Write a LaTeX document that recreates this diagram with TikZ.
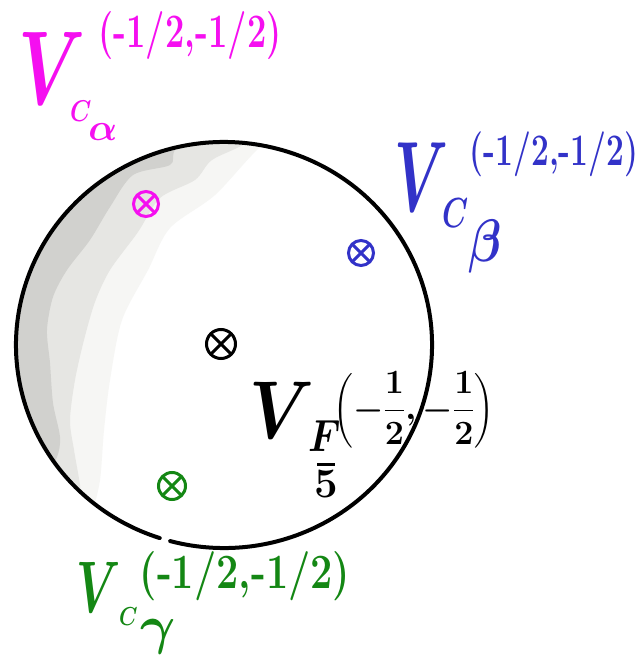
\RequirePackage{fix-cm}
\documentclass[tikz,border=0pt]{standalone}
\usepackage{amsmath}
\usepackage{graphicx}
\definecolor{hmag}{RGB}{245,15,240}
\definecolor{hblue}{RGB}{50,50,200}
\definecolor{hgreen}{RGB}{20,135,20}
\definecolor{shA}{RGB}{209,209,206}
\definecolor{shB}{RGB}{230,230,227}
\definecolor{shC}{RGB}{246,246,244}
\newcommand\hsc[3]{\scalebox{#1}[#2]{#3}}
\newcommand\fsz[1]{\fontsize{#1pt}{#1pt}\selectfont}
\tikzset{
  lbl/.style={inner sep=0pt, font=\fontsize{#1pt}{#1pt}\selectfont\bfseries\boldmath},
  sublbl/.style={lbl=#1, anchor=base west},
  xmarker/.style={circle, draw=#1, line width=3pt, minimum size=25pt, inner sep=0pt,
    path picture={\draw[#1, line width=3pt]
      (path picture bounding box.south west) -- (path picture bounding box.north east)
      (path picture bounding box.north west) -- (path picture bounding box.south east);}},
  rim/.style={line width=4pt, line cap=round}
}
\begin{document}
\begin{tikzpicture}[x=1pt,y=-1pt]
\useasboundingbox (0,0) rectangle (641,660);
\fill[white] (0,0) rectangle (641,660);
\coordinate (c) at (224,345);
% shading crescent
\begin{scope}
  \clip (c) ellipse [x radius=208pt, y radius=203pt];
  \fill[shC] plot[smooth] coordinates {(320,100) (262,145) (215,195) (170,228) (148,270) (122,320) (110,380) (104,430) (100,480) (92,515)} -- (0,620) -- (0,100) -- cycle;
  \fill[shB] plot[smooth] coordinates {(280,100) (250,140) (212,160) (195,180) (160,198) (138,232) (110,270) (95,302) (84,340) (75,380) (70,420) (74,450) (80,485) (82,510)} -- (0,620) -- (0,100) -- cycle;
  \fill[shA] plot[smooth] coordinates {(200,120) (175,150) (170,165) (133,175) (110,207) (90,240) (67,270) (53,297) (47,330) (50,363) (53,403) (60,437) (57,457) (45,475)} -- (0,620) -- (0,100) -- cycle;
\end{scope}
% outline with small gap at the bottom
\draw[rim] (c) ++(255:208pt and 203pt) arc[start angle=255, end angle=612, x radius=208pt, y radius=203pt];
% markers
\node[xmarker=hmag] (mA) at (146,204) {};
\node[xmarker=hblue] (mB) at (361,253) {};
\node[xmarker=black, minimum size=29pt] (mF) at (221,344) {};
\node[xmarker=hgreen, minimum size=27pt] (mG) at (172,486) {};
% magenta label
\node[lbl=100,hmag] (aV) at (52,68) {\hsc{0.72}{1.05}{$V$}};
\node[sublbl=30,hmag] (aSub) at (70,122) {\hsc{0.8}{1}{$C$}\kern-3pt\raisebox{-19pt}{\fsz{38}$\alpha$}};
\node[lbl=40,hmag] (aS) at (190,36) {\hsc{0.86}{1.2}{(-1/2,-1/2)}};
% blue label
\node[lbl=100,hblue] (bV) at (422,177) {\hsc{0.58}{1}{$V$}};
\node[sublbl=42,hblue] (bSub) at (442,227) {\hsc{0.7}{1}{$C$}\raisebox{-34pt}{\fsz{60}\hsc{0.8}{1}{$\beta$}}};
\node[lbl=36,hblue] (bS) at (554,154) {\hsc{0.88}{1.25}{(-1/2,-1/2)}};
% black label
\node[lbl=82] (fV) at (282,410) {\hsc{0.85}{1}{$V$}};
\node[sublbl=45] (fF) at (308,451) {\hsc{0.85}{1}{$F$}};
\node[sublbl=42] (f5) at (314,497) {5};
\draw[line width=3pt] ([xshift=-9pt,yshift=5pt]f5.north) -- ([xshift=9pt,yshift=5pt]f5.north);
\node[lbl=34] (fS) at (414,410) {$\left(-\dfrac{1}{2},-\dfrac{1}{2}\right)$};
% green label
\node[lbl=73,hgreen] (gV) at (99,587) {\hsc{0.65}{1}{$V$}};
\node[sublbl=26,hgreen] (gSub) at (119,625) {\hsc{0.8}{1}{$C$}\kern3pt\raisebox{-18pt}{\fsz{54}$\gamma$}};
\node[lbl=44,hgreen] (gS) at (245,576) {\hsc{0.9}{1.12}{(-1/2,-1/2)}};
\end{tikzpicture}
\end{document}
